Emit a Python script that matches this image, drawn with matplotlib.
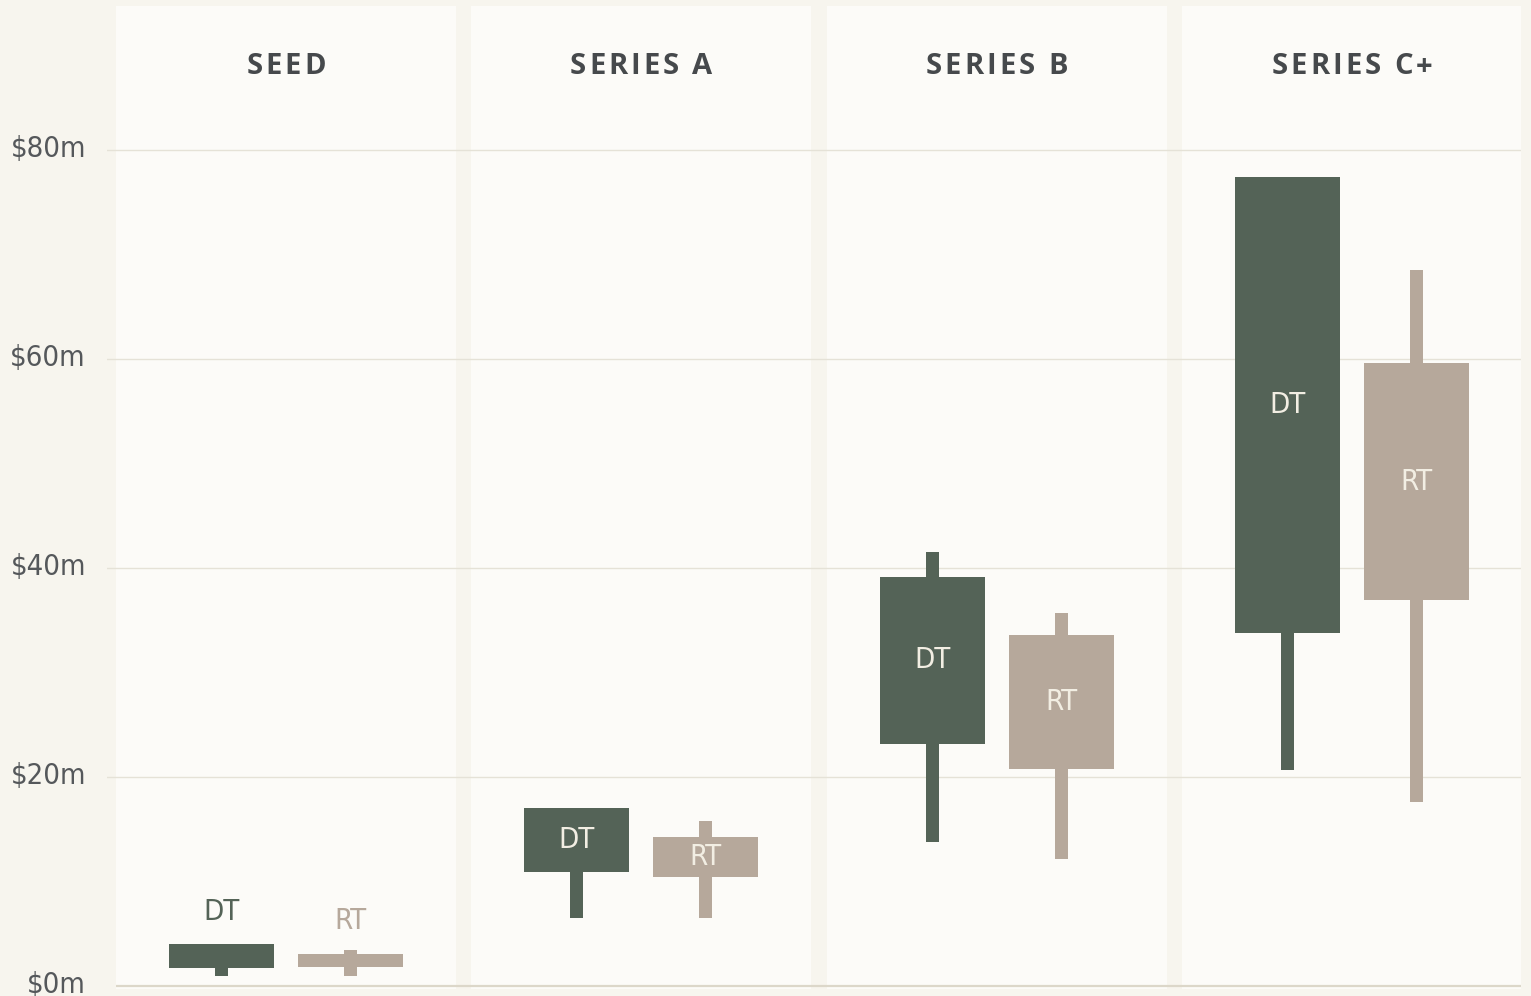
# coding=utf-8
# funding round ranges: DT vs RT
import matplotlib
matplotlib.use('Agg')
import matplotlib.pyplot as plt
from matplotlib.patches import Rectangle
from matplotlib.font_manager import FontProperties
from matplotlib import transforms

###############################################################################
stages = ['SEED', 'SERIES A', 'SERIES B', 'SERIES C+']
yticks = [0, 20, 40, 60, 80]
ytick_labels = ['$0m', '$20m', '$40m', '$60m', '$80m']

# DT: whisker low / box low / box high / whisker high ($m)
dt_low = [1.0, 6.5, 13.8, 20.7]
dt_q1 = [1.7, 10.9, 23.2, 33.8]
dt_q3 = [4.0, 17.0, 39.1, 77.4]
dt_high = [4.0, 17.0, 41.5, 77.4]

# RT
rt_low = [1.0, 6.5, 12.2, 17.6]
rt_q1 = [1.8, 10.4, 20.8, 36.9]
rt_q3 = [3.1, 14.3, 33.6, 59.6]
rt_high = [3.4, 15.8, 35.7, 68.5]

###############################################################################
BG = '#f7f5ee'
PANEL = '#fcfbf8'
GRID = '#e5e2d7'
BASE = '#dcd7c9'
DT_C = '#546357'
RT_C = '#b6a89b'
INNER = '#f2eee3'
TXT = '#46494c'

cond = FontProperties(family=['DejaVu Sans'], stretch='condensed', size=21)

fig = plt.figure(figsize=(15.31, 9.96), dpi=100, facecolor=BG)
ax = fig.add_axes([107/1531, 0, (1521-107)/1531, 990/996])
ax.set_facecolor(BG)
ax.set_xlim(-0.5038, 3.4759)
ax.set_ylim(-0.957, 93.78)
for s in ax.spines.values():
    s.set_visible(False)
ax.set_xticks([])
ax.set_yticks([])

n = len(stages)
half = 0.4784
for i in range(n):
    ax.add_patch(Rectangle((i-half, -0.29), 2*half, 94.07+0.29, facecolor=PANEL,
                           edgecolor='none', zorder=0))

for v in yticks[1:]:
    ax.axhline(v, color=GRID, lw=1, zorder=1)
ax.hlines(0, -half, 3.4759, color=BASE, lw=1.6, zorder=1)

ytr = transforms.blended_transform_factory(fig.transFigure, ax.transData)
for v, lab in zip(yticks, ytick_labels):
    ax.text(86/1531, v+0.1, lab, transform=ytr, ha='right', va='center',
            fontproperties=cond, color='#55585b')

off = 0.1815
bw = 0.2955
ww = 0.0366

def draw_group(xs, low, q1, q3, high, color, name):
    ax.bar(xs, [h-l for l, h in zip(low, high)], bottom=low, width=ww,
           color=color, zorder=2)
    ax.bar(xs, [b-a for a, b in zip(q1, q3)], bottom=q1, width=bw,
           color=color, zorder=3)
    for x, a, b in zip(xs, q1, q3):
        if b - a < 3:
            ax.text(x, b+3.1, name, ha='center', va='center',
                    fontproperties=cond, color=color, zorder=4)
        else:
            ax.text(x, (a+b)/2, name, ha='center', va='center',
                    fontproperties=cond, color=INNER, zorder=4)

draw_group([i-off for i in range(n)], dt_low, dt_q1, dt_q3, dt_high, DT_C, 'DT')
draw_group([i+off for i in range(n)], rt_low, rt_q1, rt_q3, rt_high, RT_C, 'RT')

# letter-spaced panel titles
fp = FontProperties(family=['Open Sans', 'DejaVu Sans'], weight='bold', size=21)
renderer = fig.canvas.get_renderer()
def tw(s):
    w, h, d = renderer.get_text_width_height_descent(s, fp, ismath=False)
    return w
spacing = 3.0
for i, title in enumerate(stages):
    xc = ax.transData.transform((i, 0))[0]
    lefts = []
    for k, ch in enumerate(title):
        if ch == ' ':
            continue
        lefts.append((k, tw(title[:k+1]) - tw(ch)))
    total = tw(title) + spacing*(len(title)-1)
    x0 = xc - total/2
    for k, left in lefts:
        fig.text((x0 + left + k*spacing)/1531, (996-67)/996, title[k],
                 fontproperties=fp, color=TXT, ha='left', va='center')

plt.savefig('out.png', dpi=100, facecolor=BG)
plt.close()
